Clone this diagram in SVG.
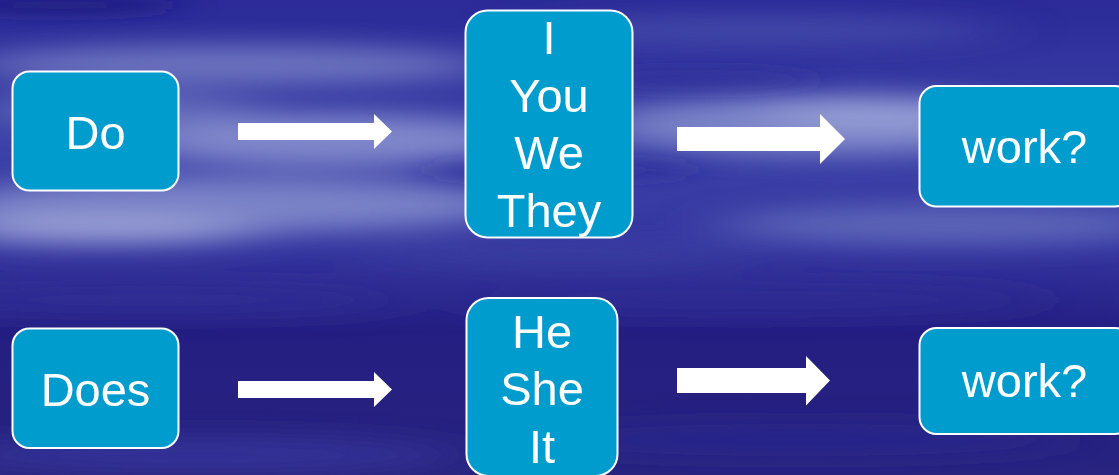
<svg xmlns="http://www.w3.org/2000/svg" width="1119" height="475" viewBox="0 0 1119 475">
<defs>
<linearGradient id="bg" x1="0" y1="0" x2="0" y2="1">
<stop offset="0" stop-color="#2b2a98"/>
<stop offset="0.3" stop-color="#3d42a8"/>
<stop offset="0.52" stop-color="#3536a0"/>
<stop offset="0.7" stop-color="#241e82"/>
<stop offset="1" stop-color="#28247f"/>
</linearGradient>
<filter id="blur" x="-50%" y="-150%" width="200%" height="400%">
<feGaussianBlur stdDeviation="34 12"/>
</filter>
<filter id="blur2" x="-50%" y="-150%" width="200%" height="400%">
<feGaussianBlur stdDeviation="20 8"/>
</filter>
<style>
.box{fill:#009ccd;stroke:#ffffff;stroke-width:2}
.lbl{font-family:"Liberation Sans",Arial,sans-serif;font-size:47px;fill:#ffffff;text-anchor:middle}
.arrow{fill:#ffffff}
</style>
</defs>
<g id="background">
<rect x="0" y="0" width="1119" height="475" fill="url(#bg)"/>
<g filter="url(#blur)">
<ellipse cx="230" cy="65" rx="260" ry="20" fill="#7a83c6" opacity="0.8"/>
<ellipse cx="330" cy="140" rx="200" ry="26" fill="#8c94d0" opacity="0.85"/>
<ellipse cx="120" cy="110" rx="140" ry="18" fill="#6f78c0" opacity="0.75"/>
<ellipse cx="230" cy="205" rx="290" ry="28" fill="#858ecd" opacity="0.85"/>
<ellipse cx="100" cy="230" rx="160" ry="14" fill="#a4acdb" opacity="0.85"/>
<ellipse cx="830" cy="125" rx="230" ry="30" fill="#858ecd" opacity="0.85"/>
<ellipse cx="880" cy="115" rx="120" ry="16" fill="#a0a8da" opacity="0.75"/>
<ellipse cx="950" cy="225" rx="230" ry="20" fill="#6a73bf" opacity="0.75"/>
<ellipse cx="760" cy="30" rx="240" ry="14" fill="#4c54ae" opacity="0.7"/>
<ellipse cx="560" cy="255" rx="200" ry="14" fill="#3c3fa0" opacity="0.6"/>
<ellipse cx="150" cy="300" rx="260" ry="14" fill="#33329a" opacity="0.6"/>
<ellipse cx="750" cy="300" rx="300" ry="14" fill="#30309a" opacity="0.5"/>
<ellipse cx="200" cy="455" rx="260" ry="18" fill="#3a3aa6" opacity="0.6"/>
<ellipse cx="800" cy="440" rx="280" ry="16" fill="#2e2d96" opacity="0.5"/>
</g>
<g filter="url(#blur2)">
<ellipse cx="60" cy="5" rx="120" ry="10" fill="#1f1a7a" opacity="0.7"/>
<ellipse cx="560" cy="170" rx="140" ry="12" fill="#2a2a92" opacity="0.4"/>
<ellipse cx="700" cy="80" rx="120" ry="10" fill="#2c2c94" opacity="0.4"/>
</g>
</g>
<g id="connectors">
<polygon class="arrow" points="238,123 374,123 374,114 392,131.5 374,149 374,140 238,140"/>
<polygon class="arrow" points="677,127 820,127 820,114 845,139 820,164 820,151 677,151"/>
<polygon class="arrow" points="238,381 374,381 374,372 392,389.5 374,407 374,398 238,398"/>
<polygon class="arrow" points="677,368 806,368 806,356 830,380.5 806,405.5 806,393 677,393"/>
</g>
<g id="node-do">
<rect class="box" x="12.5" y="71.5" width="166" height="119" rx="17"/>
<text class="lbl" x="95.5" y="149">Do</text>
</g>
<g id="node-i-you-we-they">
<rect class="box" x="465.5" y="10.5" width="167" height="227" rx="22"/>
<text class="lbl" x="549" y="54">I</text>
<text class="lbl" x="549" y="111.5">You</text>
<text class="lbl" x="549" y="169">We</text>
<text class="lbl" x="549" y="227">They</text>
</g>
<g id="node-work-1">
<rect class="box" x="919.5" y="86" width="212" height="120.5" rx="17"/>
<text class="lbl" x="1024.5" y="163">work?</text>
</g>
<g id="node-does">
<rect class="box" x="12.5" y="328.5" width="166" height="119.5" rx="17"/>
<text class="lbl" x="95.5" y="406">Does</text>
</g>
<g id="node-he-she-it">
<rect class="box" x="466.5" y="298" width="151" height="178" rx="22"/>
<text class="lbl" x="542" y="347.5">He</text>
<text class="lbl" x="542" y="404.5">She</text>
<text class="lbl" x="542" y="462.5">It</text>
</g>
<g id="node-work-2">
<rect class="box" x="919.5" y="328" width="212" height="106" rx="17"/>
<text class="lbl" x="1024.5" y="397">work?</text>
</g>
</svg>
